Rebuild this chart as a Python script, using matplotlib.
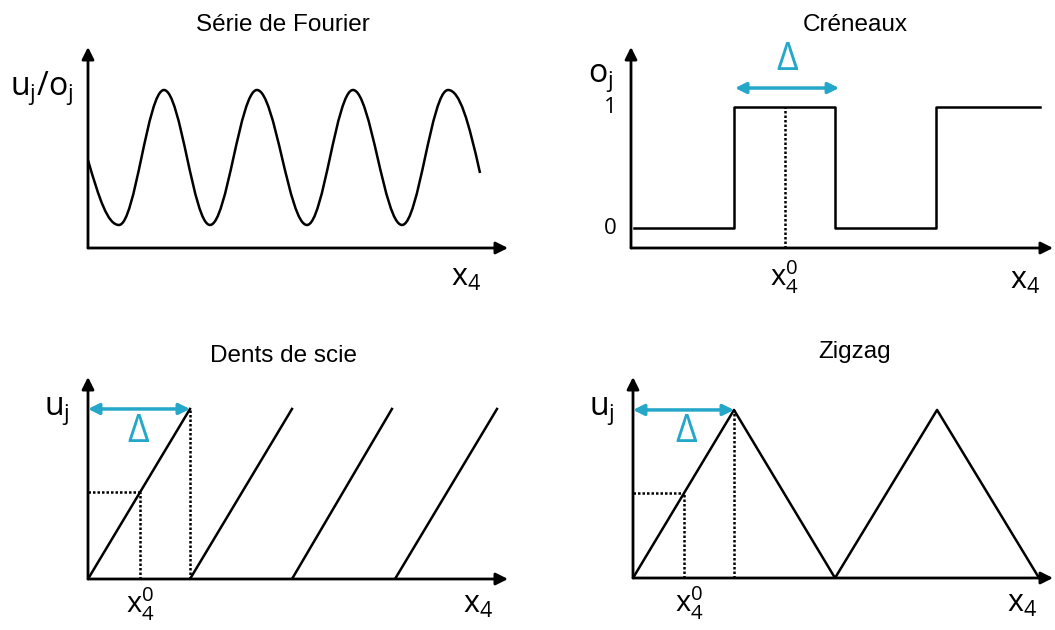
import matplotlib
matplotlib.use("Agg")
import matplotlib.pyplot as plt
from matplotlib.path import Path
from matplotlib.patches import PathPatch

plt.rcParams['mathtext.fontset'] = 'custom'
plt.rcParams['mathtext.rm'] = 'Open Sans'
plt.rcParams['mathtext.it'] = 'Open Sans:italic'

# Fourier series: start, troughs/peaks, end (x in periods, y in amplitude)
fourier_x = [0.0, 0.328, 0.804, 1.291, 1.788, 2.317, 2.804, 3.323, 3.810, 4.148]
fourier_y = [-0.04, -1, 1, -1, 1, -1, 1, -1, 1, -0.23]
fourier_slope = [-4.8, 0, 0, 0, 0, 0, 0, 0, 0, -6.3]

# square wave (x in units of delta)
cren_edges = [0.03, 1.02, 2.02, 3.02, 4.05]
cren_levels = [0, 1, 0, 1, 1]
cren_ticks = [0, 1]
cren_x0 = 1.52
cren_delta = [1.03, 2.06]

# saw teeth
saw_start = [0.0, 1.0, 2.0, 3.01]
saw_end = [1.0, 2.0, 2.98, 4.01]
saw_x0 = 0.51

# zigzag
zig_x = [0.0, 1.0, 2.0, 3.01, 4.02]
zig_y = [0, 1, 0, 1, 0]
zig_x0 = 0.505

titles = ['Série de Fourier', 'Créneaux', 'Dents de scie', 'Zigzag']

W, H = 1055, 630
CYAN = '#25a7c9'
LAB = 'Open Sans'

fig = plt.figure(figsize=(W / 100, H / 100), dpi=100)


def make_ax(ox, oy, tipx, tipy, xmin, xmax, ymin, ymax):
    # pixel origin / arrow tips -> figure axes
    ax = fig.add_axes([ox / W, 1 - oy / H, (tipx - ox) / W, (oy - tipy) / H])
    ax.set_xlim(xmin, xmax)
    ax.set_ylim(ymin, ymax)
    ax.set_axis_off()
    arr = dict(arrowstyle='-|>', color='black', lw=2, mutation_scale=18,
               shrinkA=0, shrinkB=0)
    ax.annotate('', xy=(1, 0), xytext=(0, 0), xycoords='axes fraction',
                arrowprops=arr, annotation_clip=False)
    ax.annotate('', xy=(0, 1), xytext=(0, 0), xycoords='axes fraction',
                arrowprops=arr, annotation_clip=False)
    return ax


def smooth_path(xs, ys, slopes, k=0.3634):
    verts = [(xs[0], ys[0])]
    codes = [Path.MOVETO]
    for i in range(len(xs) - 1):
        h = k * (xs[i + 1] - xs[i])
        verts += [(xs[i] + h, ys[i] + slopes[i] * h),
                  (xs[i + 1] - h, ys[i + 1] - slopes[i + 1] * h),
                  (xs[i + 1], ys[i + 1])]
        codes += [Path.CURVE4] * 3
    return Path(verts, codes)


def delta_arrow(ax, x1, x2, y):
    ax.annotate('', xy=(x2, y), xytext=(x1, y),
                arrowprops=dict(arrowstyle='<|-|>', color=CYAN, lw=2.5,
                                mutation_scale=16, shrinkA=0, shrinkB=0),
                annotation_clip=False)


dot = dict(color='black', lw=1.8, linestyle=(0, (1, 0.8)))

# ---- Fourier
ax1 = make_ax(88, 248, 508, 47, 0, 4.444, -1.341, 1.637)
ax1.add_patch(PathPatch(smooth_path(fourier_x, fourier_y, fourier_slope),
                        fill=False, lw=1.8, color='black'))
ax1.text(-0.15, 0.93, r'u$_\mathrm{j}$/o$_\mathrm{j}$', ha='right', va='baseline',
         fontsize=23, family=LAB)
ax1.text(4.0, -1.9, r'x$_\mathrm{4}$', ha='center', va='baseline',
         fontsize=22, family=LAB)

# ---- Creneaux
ax2 = make_ax(631, 248, 1053, 47, 0, 4.178, -0.165, 1.496)
ax2.step(cren_edges, cren_levels, where='post', color='black', lw=1.8)
ax2.plot([cren_x0, cren_x0], [-0.165, 1], **dot)
delta_arrow(ax2, cren_delta[0], cren_delta[1], 1.157)
ax2.text((cren_delta[0] + cren_delta[1]) / 2, 1.39, 'Δ', ha='center', va='center',
         fontsize=27, family=LAB, color=CYAN)
for t in cren_ticks:
    ax2.text(-0.14, t, str(t), ha='right', va='center', fontsize=16, family=LAB)
ax2.text(-0.17, 1.207, r'o$_\mathrm{j}$', ha='right', va='baseline',
         fontsize=23, family=LAB)
ax2.text(cren_x0, -0.475, r'x$_\mathrm{4}^\mathrm{0}$', ha='center', va='baseline',
         fontsize=21, family=LAB)
ax2.text(3.9, -0.5, r'x$_\mathrm{4}$', ha='center', va='baseline',
         fontsize=22, family=LAB)

# ---- Dents de scie
ax3 = make_ax(88, 579, 508, 377, 0, 4.118, 0, 1.188)
for s, e in zip(saw_start, saw_end):
    ax3.plot([s, e], [0, 1], color='black', lw=1.8)
ax3.plot([saw_end[0], saw_end[0]], [0, 1], **dot)
ax3.plot([saw_x0, saw_x0], [0, saw_x0 / saw_end[0]], **dot)
ax3.plot([0, saw_x0], [saw_x0 / saw_end[0]] * 2, **dot)
delta_arrow(ax3, 0, saw_end[0], 1)
ax3.text(0.495, 0.862, 'Δ', ha='center', va='center', fontsize=27,
         family=LAB, color=CYAN)
ax3.text(-0.18, 0.965, r'u$_\mathrm{j}$', ha='right', va='baseline',
         fontsize=23, family=LAB)
ax3.text(saw_x0, -0.2, r'x$_\mathrm{4}^\mathrm{0}$', ha='center', va='baseline',
         fontsize=21, family=LAB)
ax3.text(3.82, -0.2, r'x$_\mathrm{4}$', ha='center', va='baseline',
         fontsize=22, family=LAB)

# ---- Zigzag
ax4 = make_ax(633, 578, 1053, 377, 0, 4.158, 0, 1.196)
ax4.plot(zig_x, zig_y, color='black', lw=1.8)
ax4.plot([zig_x[1], zig_x[1]], [0, 1], **dot)
ax4.plot([zig_x0, zig_x0], [0, zig_x0 / zig_x[1]], **dot)
ax4.plot([0, zig_x0], [zig_x0 / zig_x[1]] * 2, **dot)
delta_arrow(ax4, 0, zig_x[1], 1)
ax4.text(0.525, 0.869, 'Δ', ha='center', va='center', fontsize=27,
         family=LAB, color=CYAN)
ax4.text(-0.18, 0.97, r'u$_\mathrm{j}$', ha='right', va='baseline',
         fontsize=23, family=LAB)
ax4.text(zig_x0 + 0.05, -0.2, r'x$_\mathrm{4}^\mathrm{0}$', ha='center', va='baseline',
         fontsize=21, family=LAB)
ax4.text(3.85, -0.2, r'x$_\mathrm{4}$', ha='center', va='baseline',
         fontsize=22, family=LAB)

# titles
for (cx, by), t in zip([(283, 31), (855, 31), (284, 362), (855, 358)], titles):
    fig.text(cx / W, 1 - by / H, t, ha='center', va='baseline',
             fontsize=17.5, family='Liberation Sans')

fig.savefig('out.png', dpi=100)
